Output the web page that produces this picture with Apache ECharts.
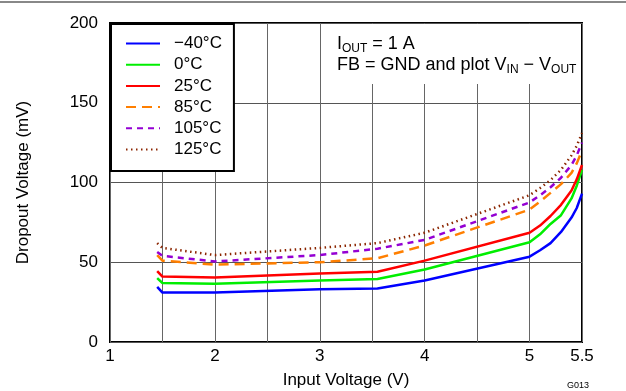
<!DOCTYPE html>
<html>
<head>
<meta charset="utf-8">
<script src="https://cdn.jsdelivr.net/npm/echarts@6/dist/echarts.min.js"></script>
<style>
  html, body { margin: 0; padding: 0; background: #fff; }
  #chart { width: 626px; height: 391px; }
</style>
</head>
<body>
<div id="chart"></div>
<script>
// series names
const seriesNames = ['\u221240°C', '0°C', '25°C', '85°C', '105°C', '125°C'];
// input voltage (V) sample points
const vin = [1.45, 1.5, 2, 3, 3.55, 4, 5, 5.1, 5.2, 5.3, 5.4, 5.45, 5.5];
// dropout voltage (mV) per temperature
const dropM40 = [34.5, 31, 31, 33, 33.5, 38.5, 53.5, 57.5, 62, 69, 78, 84, 93];
const drop0 = [40, 37, 36.5, 38.5, 39.5, 45.5, 62.5, 67.5, 74, 79.5, 90, 98, 108];
const drop25 = [44.5, 41, 40.5, 43, 44, 51, 68.5, 73, 79, 86, 95, 102, 111];
const drop85 = [54.5, 51, 48.5, 50, 52.5, 60.5, 83, 88, 93.5, 99, 106, 112, 120];
const drop105 = [56.5, 54, 50.5, 54.5, 58.5, 64, 87.5, 92, 97, 103, 111, 117, 125];
const drop125 = [62, 59, 54.5, 59, 62, 68.5, 92, 96.5, 101.5, 108, 117, 123, 131];
// tick labels
const xTickLabels = [1, 2, 3, 4, 5, 5.5];

const allDrops = [dropM40, drop0, drop25, drop85, drop105, drop125];
const colors = ['#0000ff', '#00ee00', '#ff0000', '#ff7f00', '#9400d3', '#8b2500'];
const dashes = ['solid', 'solid', 'solid', [10, 6], [6, 5], [1.5, 3.5]];
const font = 'Liberation Sans, Arial, sans-serif';

const myChart = echarts.init(document.getElementById('chart'));

const series = allDrops.map((d, i) => ({
  name: seriesNames[i],
  type: 'line',
  symbol: 'none',
  data: vin.map((v, j) => [v, d[j]]),
  lineStyle: { color: colors[i], width: 2.5, type: dashes[i] },
  itemStyle: { color: colors[i] }
}));

const option = {
  animation: false,
  textStyle: { fontFamily: font },
  grid: {
    left: 110, right: 44, top: 23, bottom: 49,
    outerBoundsMode: 'none',
    containLabel: false,
    show: true, borderColor: '#000', borderWidth: 2
  },
  xAxis: {
    type: 'value',
    min: 1, max: 5.5, interval: 0.5,
    name: 'Input Voltage (V)',
    nameLocation: 'middle',
    nameGap: 30,
    nameTextStyle: { fontSize: 17, color: '#000' },
    axisLine: { show: false },
    axisTick: { show: false },
    axisLabel: {
      fontSize: 17, color: '#000', margin: 6,
      formatter: v => (xTickLabels.indexOf(v) >= 0 ? String(v) : '')
    },
    splitLine: { lineStyle: { color: '#666', width: 1 } }
  },
  yAxis: {
    type: 'value',
    min: 0, max: 200, interval: 50,
    name: 'Dropout Voltage (mV)',
    nameLocation: 'middle',
    nameGap: 78,
    nameTextStyle: { fontSize: 17, color: '#000' },
    axisLine: { show: false },
    axisTick: { show: false },
    axisLabel: { fontSize: 17, color: '#000', margin: 12 },
    splitLine: { lineStyle: { color: '#555', width: 1 } }
  },
  legend: {
    orient: 'vertical',
    left: 111, top: 24,
    padding: [11, 12, 13, 14],
    itemWidth: 34, itemHeight: 14, itemGap: 4.2,
    backgroundColor: '#fff',
    borderColor: '#000', borderWidth: 2,
    borderRadius: 0,
    itemStyle: { opacity: 0 },
    textStyle: { fontSize: 17, color: '#000', padding: [0, 0, 0, 9] },
    data: seriesNames
  },
  graphic: [
    { type: 'line', shape: { x1: 0, y1: 2, x2: 626, y2: 2 }, style: { stroke: '#888', lineWidth: 2 } },
    // white box behind the annotation
    { type: 'rect', z: 5, shape: { x: 322, y: 24, width: 259, height: 60 }, style: { fill: '#fff' } },
    {
      type: 'text', z: 6, left: 337, top: 33,
      style: {
        text: '{n|I}{s|OUT}{n| = 1 A}\n{n|FB = GND and plot V}{s|IN}{n| \u2212 V}{s|OUT}',
        fill: '#000',
        rich: {
          n: { fontSize: 18, lineHeight: 21, fontFamily: font, fill: '#000' },
          s: { fontSize: 12, padding: [10, 0, 0, 0], lineHeight: 21, fontFamily: font, fill: '#000' }
        }
      }
    },
    {
      type: 'text', left: 567, top: 381,
      style: { text: 'G013', fontSize: 9, fill: '#000', fontFamily: font }
    }
  ],
  series
};

myChart.setOption(option);
</script>
</body>
</html>
